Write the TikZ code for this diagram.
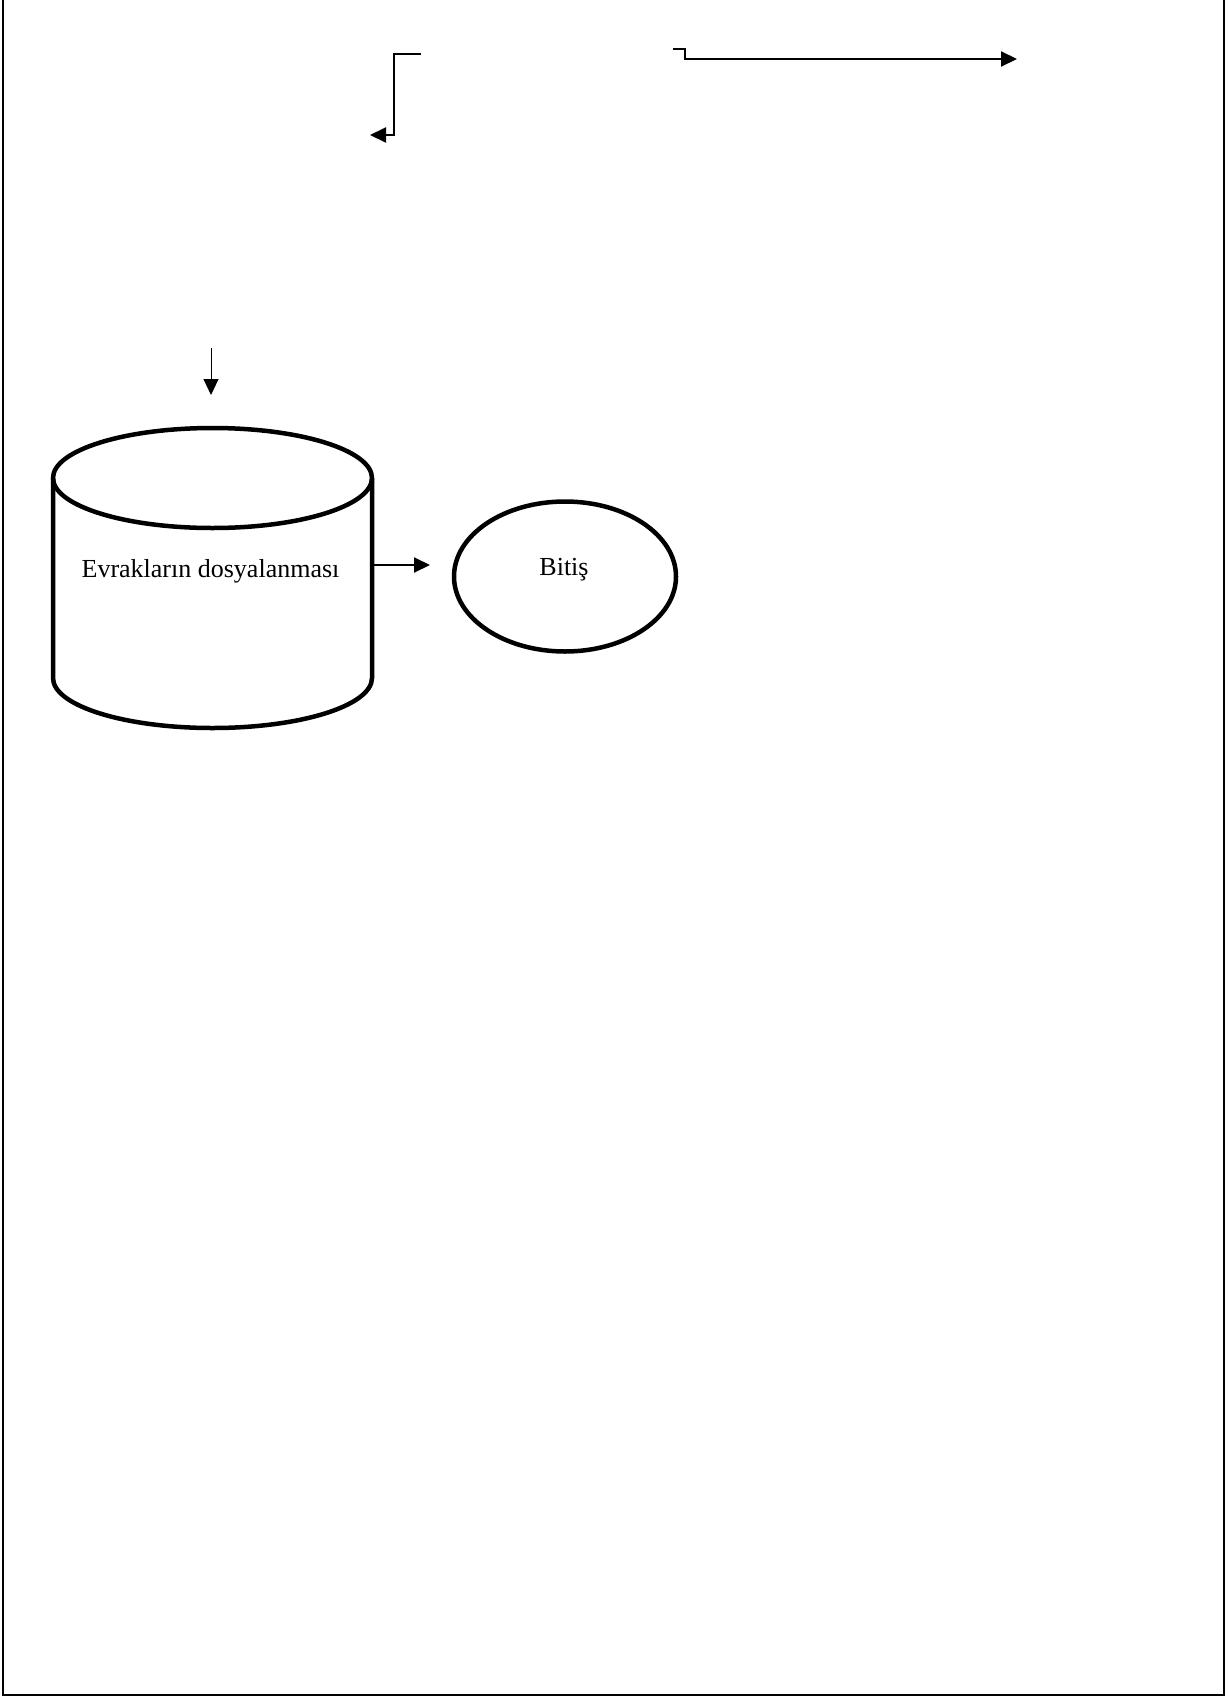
\documentclass[tikz,border=0pt]{standalone}
\usepackage{fontspec}
\setmainfont{Liberation Serif}
\usetikzlibrary{arrows.meta, positioning, shapes.geometric}

\begin{document}
\begin{tikzpicture}[
  x=1pt, y=-1pt,
  body/.style={rectangle, minimum width=319pt, minimum height=200pt, inner sep=0pt, outer sep=0pt},
  cyl/.style={draw, line width=4.5pt, line join=round},
  term/.style={ellipse, draw, line width=4.5pt, minimum width=222pt, minimum height=150pt, inner sep=0pt, outer sep=0pt},
  lbl/.style={font=\fontsize{26}{30}\selectfont, anchor=base, inner sep=0pt},
  arr/.style={-{Triangle[length=16pt, width=15pt]}, line width=#1},
  arr/.default=2pt,
]
  \useasboundingbox (0,0) rectangle (1229,1697);

  % page frame, open at the top
  \draw[line width=2pt] (2.5,0) -- (2.5,1694.5) -- (1223.5,1694.5) -- (1223.5,0);

  \node[body] (dosya) at (212.5,578) {};
  \draw[cyl] (dosya.north) ellipse [x radius=159.5pt, y radius=50pt];
  \draw[cyl] (dosya.north west) -- (dosya.south west)
    arc [start angle=180, end angle=360, x radius=159.5pt, y radius=50pt] -- (dosya.north east);
  \node[lbl] (dosyatxt) at (210.5,577) {Evrakların dosyalanması};
  \node[term] (bitis) at (565,576.5) {};
  \node[lbl] (bitistxt) at (564,575) {Bitiş};

  % loose ends at the top of the page
  \coordinate (l0) at (421,54);
  \coordinate (l1) at (394,54);
  \coordinate (l2) at (394,135);
  \coordinate (l3) at (370,135);
  \coordinate (r0) at (673,49);
  \coordinate (r1) at (685,49);
  \coordinate (r2) at (685,59);
  \coordinate (r3) at (1017,59);
  \coordinate (d0) at (211,348);
  \coordinate (d1) at (211,395);
  \coordinate (m1) at (430,565);

  \draw[arr] (l0) -- (l1) -- (l2) -- (l3);
  \draw[arr] (r0) -- (r1) -- (r2) -- (r3);
  \draw[arr=1pt] (d0) -- (d1);
  \draw[arr] (dosya.east |- m1) -- (m1);
\end{tikzpicture}
\end{document}
